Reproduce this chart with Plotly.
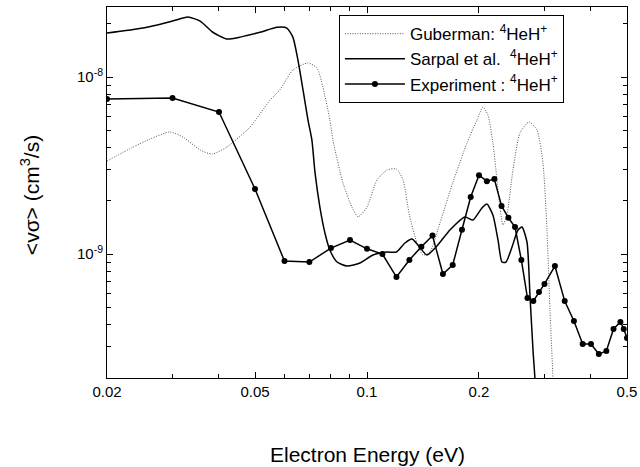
import plotly.graph_objects as go

# Electron energy (eV) and rate coefficient (units of 1e-9 cm^3/s)
guberman_x = [0.020, 0.0235, 0.0261, 0.0295, 0.0320, 0.0356, 0.0383, 0.0420, 0.0485, 0.0549,
              0.0583, 0.0632, 0.0694, 0.0734, 0.0761, 0.0795, 0.0810, 0.0862, 0.0911, 0.0946,
              0.100, 0.1064, 0.1131, 0.120, 0.125, 0.130, 0.1363, 0.1414, 0.1477, 0.1571,
              0.170, 0.1857, 0.1975, 0.205, 0.2114, 0.218, 0.2278, 0.232, 0.2378, 0.2468,
              0.2578, 0.2726, 0.2864, 0.2972, 0.3046, 0.3104, 0.3162, 0.318]
guberman_y = [3.35, 4.02, 4.46, 4.89, 4.58, 3.87, 3.67, 4.02, 5.22, 7.41,
              8.45, 10.95, 12.0, 11.24, 8.78, 5.71, 4.40, 2.52, 1.84, 1.62,
              1.84, 2.62, 2.98, 3.02, 2.62, 1.66, 1.154, 0.987, 1.026, 1.50,
              2.52, 4.24, 5.71, 6.77, 6.10, 4.24, 1.84, 1.46, 1.66, 2.98,
              4.83, 5.57, 5.02, 3.27, 1.366, 0.483, 0.194, 0.1]

sarpal_x = [0.020, 0.025, 0.030, 0.033, 0.0356, 0.0385, 0.042, 0.0456, 0.0516, 0.0573,
            0.0609, 0.0632, 0.0652, 0.0673, 0.0694, 0.0711, 0.0725, 0.0747, 0.0771, 0.0795,
            0.0831, 0.0884, 0.0957, 0.1038, 0.1131, 0.120, 0.1265, 0.1321, 0.1371, 0.1449,
            0.1542, 0.1671, 0.1834, 0.1927, 0.2037, 0.210, 0.218, 0.225, 0.2306, 0.2364,
            0.2454, 0.2546, 0.261, 0.2692, 0.2742, 0.2794, 0.2829, 0.285]
sarpal_y = [17.7, 18.9, 20.7, 21.8, 20.7, 17.9, 16.4, 16.8, 17.9, 19.1,
            18.9, 16.8, 12.5, 8.45, 5.71, 4.40, 2.87, 1.84, 1.31, 1.05,
            0.901, 0.855, 0.890, 0.987, 1.026, 1.026, 1.154, 1.215, 1.124, 0.987,
            1.11, 1.366, 1.618, 1.556, 1.82, 1.917, 1.66, 1.20, 0.901, 0.901,
            1.095, 1.366, 1.42, 1.169, 0.587, 0.287, 0.194, 0.1]

exp_x = [0.02, 0.03, 0.04, 0.05, 0.06, 0.07, 0.08, 0.09, 0.10, 0.11,
         0.12, 0.13, 0.14, 0.15, 0.16, 0.17, 0.18, 0.19, 0.20, 0.21,
         0.22, 0.23, 0.24, 0.25, 0.26, 0.27, 0.28, 0.29, 0.30, 0.32,
         0.34, 0.36, 0.38, 0.40, 0.42, 0.44, 0.46, 0.48, 0.49, 0.50]
exp_y = [7.51, 7.60, 6.34, 2.33, 0.912, 0.901, 1.08, 1.20, 1.07, 1.00,
         0.741, 0.925, 1.10, 1.27, 0.771, 0.867, 1.37, 2.10, 2.79, 2.58,
         2.65, 1.87, 1.60, 1.42, 0.925, 0.564, 0.542, 0.609, 0.677, 0.855,
         0.542, 0.418, 0.310, 0.310, 0.272, 0.283, 0.377, 0.413, 0.377, 0.335]

x_ticks = [0.02, 0.05, 0.1, 0.2, 0.5]
x_ticklabels = ["0.02", "0.05", "0.1", "0.2", "0.5"]
x_minor = [0.03, 0.04, 0.06, 0.07, 0.08, 0.09, 0.3, 0.4]
y_ticks = [1e-9, 1e-8]
y_ticklabels = ["10<sup>-9</sup>", "10<sup>-8</sup>"]
y_minor = [3e-10, 4e-10, 5e-10, 6e-10, 7e-10, 8e-10, 9e-10,
           2e-9, 3e-9, 4e-9, 5e-9, 6e-9, 7e-9, 8e-9, 9e-9, 2e-8]
x_title = "Electron Energy (eV)"
y_title = "&lt;vσ&gt; (cm<sup>3</sup>/s)"

scale = 1e-9
FONT = "Liberation Sans, Arial, sans-serif"

fig = go.Figure()
fig.add_trace(go.Scatter(
    x=guberman_x, y=[v * scale for v in guberman_y], mode="lines",
    line=dict(color="#555555", width=1, dash="1px,1.5px", shape="spline", smoothing=0.6),
    name="Guberman: <sup>4</sup>HeH<sup>+</sup>"))
fig.add_trace(go.Scatter(
    x=sarpal_x, y=[v * scale for v in sarpal_y], mode="lines",
    line=dict(color="black", width=1.5, shape="spline", smoothing=0.6),
    name="Sarpal et al.  <sup>4</sup>HeH<sup>+</sup>"))
fig.add_trace(go.Scatter(
    x=exp_x, y=[v * scale for v in exp_y], mode="lines+markers",
    line=dict(color="black", width=1.5),
    marker=dict(color="black", size=6),
    name="Experiment : <sup>4</sup>HeH<sup>+</sup>"))

axis_common = dict(showline=True, linecolor="black", linewidth=1, mirror="ticks",
                   ticks="inside", ticklen=6, tickcolor="black", showgrid=False,
                   zeroline=False, automargin=False)

fig.update_xaxes(type="log", range=[-1.69897, -0.30103],
                 tickvals=x_ticks, ticktext=x_ticklabels,
                 tickfont=dict(size=15, family=FONT, color="black"),
                 minor=dict(tickvals=x_minor, ticks="inside", ticklen=4, tickcolor="black"),
                 **axis_common)
fig.update_yaxes(type="log", range=[-9.7006, -7.6045],
                 tickvals=y_ticks, ticktext=y_ticklabels,
                 tickfont=dict(size=15, family=FONT, color="black"),
                 minor=dict(tickvals=y_minor, ticks="inside", ticklen=4, tickcolor="black"),
                 **axis_common)

fig.add_annotation(text=x_title, xref="paper", yref="paper", x=0.5, y=-0.2075,
                   xanchor="center", yanchor="middle", showarrow=False,
                   font=dict(size=21, family=FONT, color="black"))
fig.add_annotation(text=y_title, xref="paper", yref="paper", x=-0.148, y=0.493,
                   xanchor="center", yanchor="middle", showarrow=False, textangle=-90,
                   font=dict(size=21, family=FONT, color="black"))

fig.update_layout(
    width=640, height=467,
    margin=dict(l=107, r=13, t=7, b=89, autoexpand=False),
    paper_bgcolor="white", plot_bgcolor="white",
    font=dict(family=FONT, color="black"),
    legend=dict(x=0.446, y=0.978, xanchor="left", yanchor="top",
                bgcolor="white", bordercolor="black", borderwidth=1,
                font=dict(size=17, family=FONT, color="black"),
                tracegroupgap=0, itemwidth=60),
    showlegend=True,
)

fig.write_html("out.html")
